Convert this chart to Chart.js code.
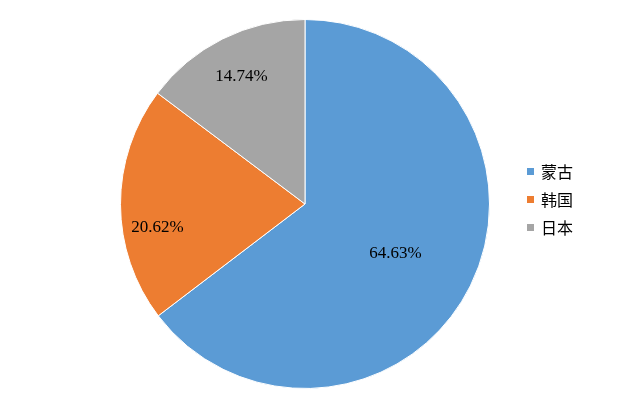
<!DOCTYPE html>
<html><head><meta charset="utf-8">
<script src="https://cdn.jsdelivr.net/npm/chart.js@4/dist/chart.umd.min.js"></script>
<style>
html,body{margin:0;padding:0;background:#fff;}
#wrap{position:relative;width:624px;height:406px;}
#legend{position:absolute;left:527px;top:157px;font-family:"Noto Sans CJK SC",sans-serif;font-size:16px;color:#000;}
.item{height:28px;display:flex;align-items:center;}
.box{width:7px;height:7px;margin-right:7px;}
</style></head>
<body><div id="wrap"><canvas id="c" width="624" height="406"></canvas><div id="legend"></div></div>
<script>
const categories = ["蒙古", "韩国", "日本"];
const values = [64.63, 20.62, 14.74];
const valueLabels = ["64.63%", "20.62%", "14.74%"];
const colors = ["#5B9BD5", "#ED7D31", "#A5A5A5"];

const labelPlace = {fractions: [0.56, 0.81, 0.77], angleOffsets: [2.5, -9, 0]};

const sliceLabels = {
  id: 'sliceLabels',
  afterDatasetsDraw(chart) {
    const ctx = chart.ctx;
    const meta = chart.getDatasetMeta(0);
    ctx.save();
    ctx.font = '17px "Liberation Serif", "Times New Roman", serif';
    ctx.fillStyle = '#000';
    ctx.textAlign = 'center';
    ctx.textBaseline = 'middle';
    meta.data.forEach((arc, i) => {
      const p = arc.getProps(['x','y','startAngle','endAngle','outerRadius'], true);
      const mid = (p.startAngle + p.endAngle) / 2 + labelPlace.angleOffsets[i] * Math.PI / 180;
      const r = p.outerRadius * labelPlace.fractions[i];
      ctx.fillText(valueLabels[i], p.x + Math.cos(mid) * r, p.y + Math.sin(mid) * r);
    });
    ctx.restore();
  }
};

new Chart(document.getElementById('c'), {
  type: 'pie',
  data: {labels: categories, datasets: [{data: values, backgroundColor: colors, borderColor: '#fff', borderWidth: 1}]},
  options: {
    responsive: false, animation: false,
    layout: {padding: {left: 120, right: 134, top: 19, bottom: 17}},
    plugins: {legend: {display: false}, tooltip: {enabled: false}}
  },
  plugins: [sliceLabels]
});

const lg = document.getElementById('legend');
categories.forEach((c, i) => {
  const d = document.createElement('div'); d.className = 'item';
  const b = document.createElement('span'); b.className = 'box'; b.style.background = colors[i];
  const t = document.createElement('span'); t.textContent = c;
  d.appendChild(b); d.appendChild(t); lg.appendChild(d);
});
</script></body></html>
